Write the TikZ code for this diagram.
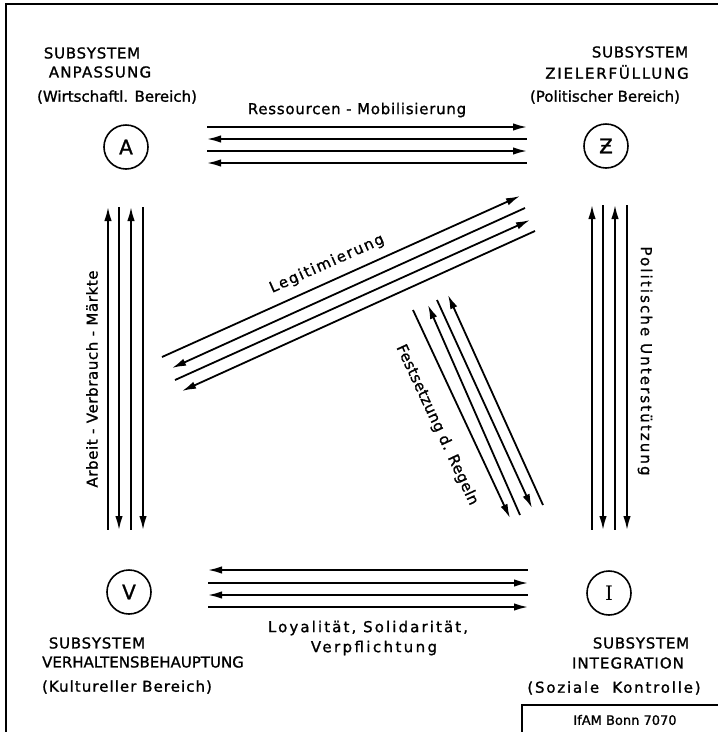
\documentclass[tikz,border=0pt]{standalone}
\usepackage{fontspec}
\setmainfont{DejaVu Sans}[FakeBold=1.2]
\newfontfamily\serifI{DejaVu Serif}
\usepackage{tikz}
\usetikzlibrary{arrows.meta}

\begin{document}
\begin{tikzpicture}[
    x=1pt, y=-1pt,
    font=\fontsize{15}{18}\selectfont,
    line width=1.8pt,
    sub/.style={circle, draw, line width=1.6pt, minimum size=44pt,
      inner sep=0pt, font=\fontsize{20}{20}\selectfont},
    lbl/.style={inner sep=0pt},
    ls/.style={lbl, font=\fontsize{15}{18}\selectfont\addfontfeature{LetterSpace=#1}},
    flow/.style={line width=1.8pt},
    >={Latex[length=14pt,width=7.5pt]}
  ]
    \useasboundingbox (0,0) rectangle (718,732);
    \draw (6,732) |- (718,4);

    % die vier Subsysteme
    \node[sub] (A) at (126,147) {A};
    \node[sub] (Z) at (606,146) {Ƶ};
    \node[sub] (V) at (129,592) {V};
    \node[sub] (I) at (609,593) {\serifI I};

    \node[ls=5]  (sysA)  at (92,53)  {SUBSYSTEM};
    \node[ls=8]  (nameA) at (100,72) {ANPASSUNG};
    \node[lbl]   (areaA) at (117,97) {(Wirtschaftl. Bereich)};
    \node[ls=5]  (sysZ)  at (640,52)  {SUBSYSTEM};
    \node[ls=12] (nameZ) at (617,72)  {ZIELERFÜLLUNG};
    \node[lbl]   (areaZ) at (605,97)  {(Politischer Bereich)};
    \node[ls=5]  (sysV)  at (97,643)  {SUBSYSTEM};
    \node[lbl]   (nameV) at (143,662) {VERHALTENSBEHAUPTUNG};
    \node[ls=7]  (areaV) at (127,687) {(Kultureller Bereich)};
    \node[ls=5]  (sysI)  at (641,643) {SUBSYSTEM};
    \node[ls=7]  (nameI) at (628,663) {INTEGRATION};
    \node[ls=12] (areaI) at (614,688) {(Soziale\ \ Kontrolle)};

    % Endpunkte der Strombündel
    \foreach \y [count=\i] in {127,139,151,163} {
      \coordinate (az\i) at (207,\y);
      \coordinate (za\i) at (527,\y);
    }
    \foreach \y [count=\i] in {570,583,595,607} {
      \coordinate (vi\i) at (208,\y);
      \coordinate (iv\i) at (528,\y);
    }
    \foreach \x [count=\i] in {108,119,131,143} {
      \coordinate (av\i) at (\x,207);
      \coordinate (va\i) at (\x,530);
    }
    \foreach \x [count=\i] in {592,603,615,627} {
      \coordinate (zi\i) at (\x,205);
      \coordinate (iz\i) at (\x,530);
    }
    \foreach \p/\q [count=\i] in {162/357,172/368,175/380,182/391} {
      \coordinate (lv\i) at (\p,\q);
    }
    \foreach \p/\q [count=\i] in {520/196,525/208,530/220,535/231} {
      \coordinate (lz\i) at (\p,\q);
    }
    \foreach \p/\q [count=\i] in {413/310,428/305,437/300,448/295} {
      \coordinate (fz\i) at (\p,\q);
    }
    \foreach \p/\q [count=\i] in {510/518,520/515,532/508,543/505} {
      \coordinate (fi\i) at (\p,\q);
    }

    % Pfeile
    \foreach \i/\dir in {1/->,2/<-,3/->,4/<-} {
      \draw[flow,\dir] (az\i) -- (za\i);
      \draw[flow,\dir] (lv\i) -- (lz\i);
      \draw[flow,\dir] (fz\i) -- (fi\i);
    }
    \foreach \i/\dir in {1/<-,2/->,3/<-,4/->} {
      \draw[flow,\dir] (vi\i) -- (iv\i);
      \draw[flow,\dir] (av\i) -- (va\i);
      \draw[flow,\dir] (zi\i) -- (iz\i);
    }

    \node[ls=5]  (res) at (357,110) {Ressourcen - Mobilisierung};
    \node[ls=14] (loy) at (368,628) {Loyalität, Solidarität,};
    \node[ls=16] (ver) at (374,648) {Verpflichtung};
    \node[ls=4, rotate=90]  (arb) at (92,379)  {Arbeit - Verbrauch - Märkte};
    \node[ls=14, rotate=-90] (pol) at (645,361) {Politische Unterstützung};
    \node[ls=11, rotate=24]  (leg) at (327,264) {Legitimierung};
    \node[ls=3, rotate=-65] (fes) at (437,425) {Festsetzung d. Regeln};

    % Quellenangabe
    \draw[line width=1.4pt] (522,732) |- (718,705);
    \node[lbl, font=\fontsize{13}{15}\selectfont] (src) at (625,720) {IfAM Bonn 7070};
  \end{tikzpicture}
\end{document}
